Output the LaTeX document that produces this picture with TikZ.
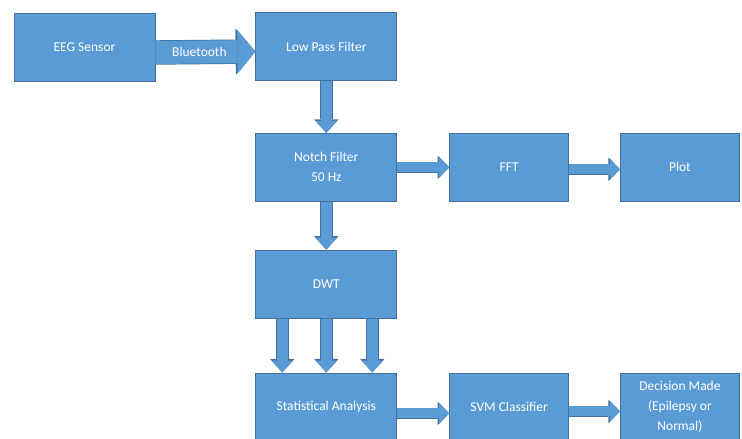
\documentclass[tikz,border=0pt]{standalone}
\usepackage{fontspec}
\setmainfont{Carlito}
\usepackage{tikz}
\usetikzlibrary{positioning,arrows.meta}

\definecolor{boxfill}{HTML}{5B9BD5}
\definecolor{boxedge}{HTML}{41719C}

\begin{document}
\begin{tikzpicture}[
			x=1pt, y=1pt,
			block/.style={rectangle, draw=boxedge, fill=boxfill, line width=0.8pt, minimum width=141pt, minimum height=68pt, align=center, text=white, font=\fontsize{13.5}{20}\selectfont, inner sep=0pt},
			smallblock/.style={block, minimum width=119pt},
			fatarrow/.style={draw=boxfill, line width=10pt, -{Triangle[length=10pt,width=21pt,line width=0pt]},
				preaction={draw=boxedge, line width=11.4pt, -{Triangle[length=11.6pt,width=23.4pt,line width=0pt]}}},
			downarrow/.style={draw=boxfill, line width=11pt, -{Triangle[length=12pt,width=22pt,line width=0pt]},
				preaction={draw=boxedge, line width=12.4pt, -{Triangle[length=13.6pt,width=24.4pt,line width=0pt]}}}
		]
		\useasboundingbox (0,0) rectangle (742,-439);

		\node[block] (eeg) at (84.5,-47.5) {EEG Sensor};

		\node[block, right=100pt of eeg.east, anchor=west, yshift=1pt] (lpf) {Low Pass Filter};

		\node[block, below=52pt of lpf] (notch) {Notch Filter\\50 Hz};

		\node[smallblock, right=52pt of notch] (fft) {FFT};

		\node[smallblock, right=51pt of fft] (plot) {Plot};

		\node[block, below=48pt of notch] (dwt) {DWT};

		\node[block, below=54pt of dwt, minimum height=67pt] (stat) {Statistical Analysis};

		\node[smallblock, right=52pt of stat, minimum height=67pt] (svm) {SVM Classifier};

		\node[smallblock, right=51pt of svm, minimum height=67pt] (dec) {Decision Made\\(Epilepsy or\\Normal)};

		\draw[draw=boxfill, line width=23pt, -{Triangle[length=18pt,width=44pt,line width=0pt]},
			preaction={draw=boxedge, line width=24.4pt, -{Triangle[length=19.8pt,width=46.4pt,line width=0pt]}}]
			([yshift=-5pt]eeg.east) -- node[pos=0.44, text=white, font=\fontsize{13.5}{16}\selectfont] {Bluetooth} ([yshift=-5pt]lpf.west);
		\draw[downarrow] (lpf) -- (notch);
		\draw[fatarrow] (notch) -- (fft);
		\draw[fatarrow] ([yshift=-2pt]fft.east) -- ([yshift=-2pt]plot.west);
		\draw[downarrow] (notch) -- (dwt);
		\foreach \dx in {-44,0,46}
			\draw[downarrow] ([xshift=\dx pt]dwt.south) -- ([xshift=\dx pt]stat.north);
		\draw[fatarrow] ([yshift=-7pt]stat.east) -- ([yshift=-7pt]svm.west);
		\draw[fatarrow] ([yshift=-5pt]svm.east) -- ([yshift=-5pt]dec.west);
	\end{tikzpicture}
\end{document}
